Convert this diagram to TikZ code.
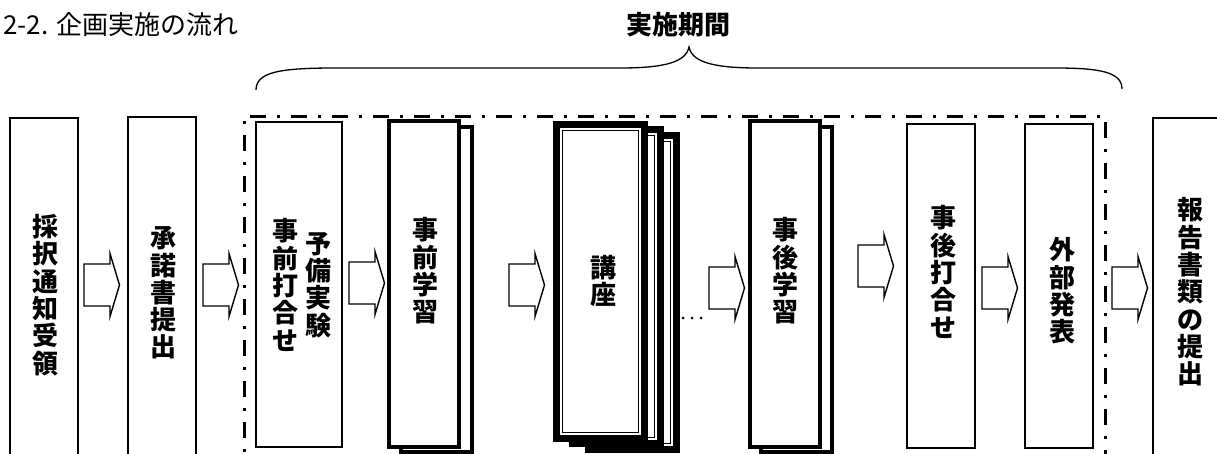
\documentclass[tikz,border=0pt]{standalone}
\usepackage{fontspec}
\newfontfamily\cjk{Noto Sans CJK JP}
\newcommand{\blockarrow}[3]{% name, left x, centre y
  \draw[blk] (#2,#3-21) coordinate (#1) -- ++(26,0) -- ++(0,-10.5) -- ++(9.5,31.5) -- ++(-9.5,31.5) -- ++(0,-10.5) -- ++(-26,0) -- cycle;}
\newcommand{\kframe}[5]{% name, cx, cy, w, h
  \node[fill=black, inner sep=0, minimum width=#4, minimum height=#5] (#1) at (#2,#3) {};
  \node[fill=white, inner sep=0, minimum width=#4-14, minimum height=#5-14] at (#2,#3) {};
  \node[draw, line width=1.5pt, fill=white, inner sep=0, minimum width=#4-19, minimum height=#5-19] at (#2,#3) {};}
\begin{document}
\begin{tikzpicture}[x=1pt,y=-1pt,
  thinbox/.style={draw, line width=1.6pt, fill=white, inner sep=0},
  thickbox/.style={draw, line width=4pt, fill=white, inner sep=0},
  vlabel/.style={font=\cjk\bfseries\fontsize{26}{27.3}\selectfont, align=center, inner sep=0},
  blk/.style={draw, line width=1.4pt, fill=white, line join=miter},
  dd/.style={line width=3pt, dash pattern=on 16pt off 11pt on 3pt off 11pt}]
\useasboundingbox (0,0) rectangle (1217,453);
\clip (0,0) rectangle (1217,453);

% title and period label
\node[anchor=west, inner sep=0, font=\cjk\fontsize{26}{28}\selectfont] (title) at (3,25) {2-2. 企画実施の流れ};
\node[inner sep=0, font=\cjk\bfseries\fontsize{26}{28}\selectfont] (period) at (678,25) {実施期間};

% brace
\draw[line width=1.3pt] (256,90) .. controls (256,72) and (280,68) .. (335,68) -- (620,68)
  .. controls (665,68) and (686,62) .. (689,47)
  .. controls (692,62) and (713,68) .. (758,68) -- (1055,68)
  .. controls (1100,68) and (1122,72) .. (1122,89);

% dash-dot frame
\draw[dd] (244,520) -- (244,116) -- (1105,116) -- (1105,520);

% boxes
\node[thinbox, minimum width=68, minimum height=362] (b1) at (44,299) {};
\node[thinbox, minimum width=68, minimum height=363] (b2) at (162,298.5) {};
\node[thinbox, minimum width=86, minimum height=325] (b3) at (299,284.5) {};
\node[thickbox, minimum width=71, minimum height=325] (b4b) at (436.5,289.5) {};
\node[thickbox, minimum width=70, minimum height=326] (b4) at (424,284) {};
\kframe{k3}{632.5}{292.5}{95}{321}
\kframe{k2}{616.5}{286.5}{95}{321}
\kframe{k1}{600.5}{281.5}{95}{321}
\node[thickbox, minimum width=71, minimum height=325] (b6b) at (796.5,289.5) {};
\node[thickbox, minimum width=70, minimum height=326] (b6) at (785,284) {};
\node[thinbox, minimum width=68, minimum height=324] (b7) at (941,286) {};
\node[thinbox, minimum width=68, minimum height=324] (b8) at (1059,286) {};
\node[thinbox, minimum width=107, minimum height=362] (b9) at (1206.5,299) {};

% labels
\node[vlabel] (l1) at (45,295) {採\\択\\通\\知\\受\\領};
\node[vlabel] (l2) at (163,293) {承\\諾\\書\\提\\出};
\node[vlabel] (l3a) at (318,285) {予\\備\\実\\験};
\node[vlabel] (l3b) at (285,285) {事\\前\\打\\合\\せ};
\node[vlabel] (l4) at (425,271) {事\\前\\学\\習};
\node[vlabel] (l5) at (603,281) {講\\座};
\node[vlabel] (l6) at (785,271) {事\\後\\学\\習};
\node[vlabel] (l7) at (943,272) {事\\後\\打\\合\\せ};
\node[vlabel] (l8) at (1062,291) {外\\部\\発\\表};
\node[vlabel] (l9) at (1190,292) {報\\告\\書\\類\\の\\提\\出};

% dots
\foreach \x [count=\i] in {683,692,701} \fill (\x,318) circle (1.5) coordinate (dot\i);

% block arrows
\blockarrow{a1}{84}{285}
\blockarrow{a2}{203}{285}
\blockarrow{a3}{349}{283}
\blockarrow{a4}{509}{285}
\blockarrow{a5}{709}{288}
\blockarrow{a6}{858}{266}
\blockarrow{a7}{982}{288}
\blockarrow{a8}{1112}{288}
\end{tikzpicture}
\end{document}
